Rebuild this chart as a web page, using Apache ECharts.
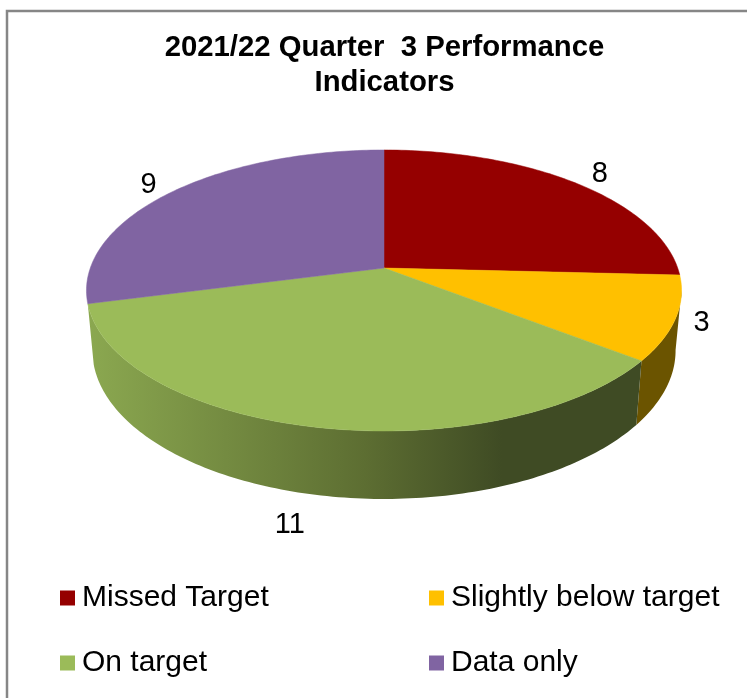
<!DOCTYPE html>
<html>
<head>
<meta charset="utf-8">
<script src="https://cdn.jsdelivr.net/npm/echarts@6/dist/echarts.min.js"></script>
<style>
html,body{margin:0;padding:0;background:#fff;}
#chart{width:747px;height:698px;}
</style>
</head>
<body>
<div id="chart"></div>
<script>
var sliceNames = ['Missed Target','Slightly below target','On target','Data only'];
var sliceValues = [8,3,11,9];
var sliceColors = ['#950000','#ffc000','#9bbb59','#8064a2'];
var chartTitle = '2021/22 Quarter  3 Performance\nIndicators';

// fake 3d: the disc is a circle seen in perspective, all marks go through project()
var cx = 384, cy = 268, radX = 293.7, radY = 136.9, persp = 0.16;
var silhouette = 99; // degrees where the rim turns away on the right
var wallScaleX = 0.98, wallScaleY = 1.057, wallDrop = 58.7;
var labelShift = [[24,-9],[26,5],[-24,98],[-24,-7]];
var yellowWall = '#6b5400';
var greenWall = [[0,'#8ba850'],[0.5,'#5d6e32'],[0.75,'#3f4b24'],[1,'#3f4b24']];
var total = sliceValues.reduce(function(a,b){return a+b;},0);

function project(deg){
    var t = deg*Math.PI/180, u = Math.sin(t), v = -Math.cos(t), w = 1-persp*v;
    return [cx+radX*u/w, cy+radY*v/w];
}
function projectLow(deg){
    var p = project(deg);
    return [cx+wallScaleX*(p[0]-cx), cy+wallDrop+wallScaleY*(p[1]-cy)];
}
function arc(fn,from,to){
    var pts = [], n = Math.max(2,Math.ceil(Math.abs(to-from)));
    for(var i=0;i<=n;i++){
        pts.push(fn(from+(to-from)*i/n));
    }
    return pts;
}

function makeRender(index){
    return function(params,api){
        var before = 0;
        for(var i=0;i<index;i++){ before += sliceValues[i]; }
        var value = api.value(0);
        var start = before/total*360, end = (before+value)/total*360, mid = (start+end)/2;
        var children = [];
        if(mid>90 && mid<270){
            var from = Math.max(start,silhouette);
            var fill = index==2
                ? new echarts.graphic.LinearGradient(88,0,640,0,greenWall.map(function(s){return {offset:s[0],color:s[1]};}),true)
                : yellowWall;
            children.push({
                type:'polygon',
                shape:{points:arc(project,from,end).concat(arc(projectLow,end,from))},
                style:{fill:fill}
            });
        }
        children.push({
            type:'polygon',
            shape:{points:[[cx,cy]].concat(arc(project,start,end))},
            style:{fill:sliceColors[index],stroke:sliceColors[index],lineWidth:0.5}
        });
        var p = project(mid), s = labelShift[index];
        children.push({
            type:'text',
            x:p[0]+s[0], y:p[1]+s[1],
            style:{text:String(value),fill:'#000',font:'29px "Liberation Sans", Arial, sans-serif',align:'center',verticalAlign:'middle'}
        });
        return {type:'group',children:children};
    };
}

var legendStyle = {
    orient:'vertical', icon:'rect', itemWidth:15, itemHeight:15, itemGap:31,
    top:576, selectedMode:false,
    textStyle:{color:'#000',fontSize:30,fontFamily:'"Liberation Sans", Arial, sans-serif',lineHeight:30,padding:[4,0,0,2]}
};

var chart = echarts.init(document.getElementById('chart'));
chart.setOption({
    backgroundColor:'#fff',
    animation:false,
    title:{
        text:chartTitle, left:379.5, top:26, textAlign:'center',
        textStyle:{color:'#000',fontSize:29.3,fontWeight:'bold',fontFamily:'"Liberation Sans", Arial, sans-serif',lineHeight:34.5}
    },
    legend:[
        Object.assign({left:55,data:[sliceNames[0],sliceNames[2]]},legendStyle),
        Object.assign({left:424,data:[sliceNames[1],sliceNames[3]]},legendStyle)
    ],
    graphic:[{
        type:'polyline', silent:true,
        shape:{points:[[7,698],[7,11],[747,11]]},
        style:{stroke:'#868686',lineWidth:2.5,fill:null}
    }],
    series:sliceNames.map(function(name,i){
        return {
            type:'custom', name:name, coordinateSystem:'none',
            itemStyle:{color:sliceColors[i]},
            data:[[sliceValues[i]]],
            renderItem:makeRender(i)
        };
    })
});
</script>
</body>
</html>
